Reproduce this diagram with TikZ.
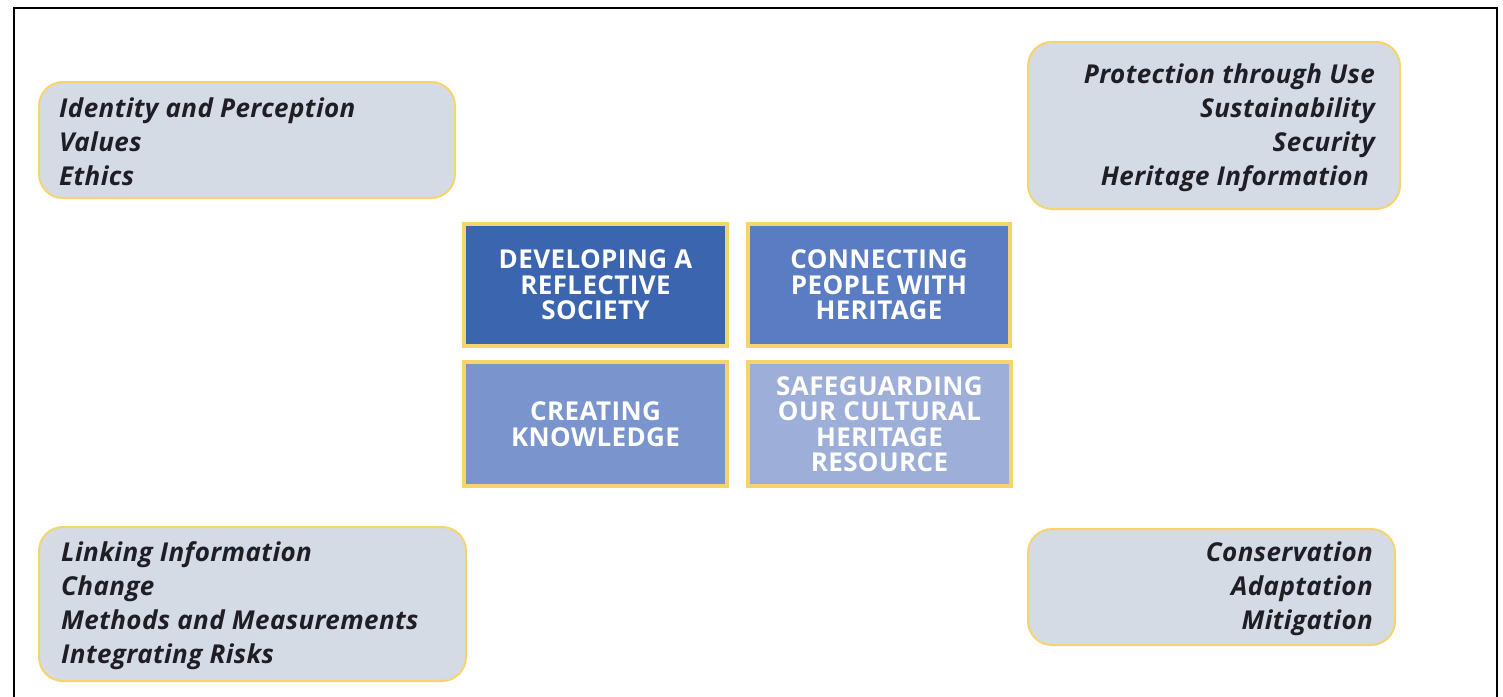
\documentclass[tikz,border=0pt]{standalone}
\usepackage{fontspec}
\setmainfont{Open Sans}
\definecolor{sidefill}{HTML}{D5DBE5}
\definecolor{gold}{HTML}{F6D46C}
\definecolor{cdev}{HTML}{3B65AF}
\definecolor{ccon}{HTML}{5A7CC2}
\definecolor{ccre}{HTML}{7A95CD}
\definecolor{csaf}{HTML}{9DAED8}
\definecolor{txt}{HTML}{1E1E24}
\tikzset{
  sidebox/.style={draw=gold, line width=2pt, fill=sidefill, rounded corners=24pt, inner sep=0pt},
  sidetext/.style={inner sep=0pt, text=txt, yshift=-2pt, font=\fontsize{26}{34}\selectfont\bfseries\itshape\addfontfeatures{LetterSpace=1.5}},
  corebox/.style={draw=gold, line width=4pt, inner sep=0pt, text=white, align=center,
    font=\fontsize{26}{25.5}\selectfont\bfseries\addfontfeatures{LetterSpace=1.5}},
  frameline/.style={draw=black, line width=1.8pt}
}
\begin{document}
\begin{tikzpicture}[x=1pt,y=-1pt]
\useasboundingbox (0,0) rectangle (1503,696);
\fill[white] (0,0) rectangle (1503,696);
\coordinate (f1) at (14,720);
\coordinate (f2) at (14,8);
\coordinate (f3) at (1497,8);
\coordinate (f4) at (1497,720);
\draw[frameline] (f1) -- (f2) -- (f3) -- (f4);

% side boxes
\node[sidebox, minimum width=416pt, minimum height=116pt] (tl) at (247,140) {};
\node[sidetext, anchor=west, align=left] (tlt) at ([xshift=21pt]tl.west) {Identity and Perception\\Values\\Ethics};

\node[sidebox, minimum width=372pt, minimum height=167pt] (tr) at (1214,125.5) {};
\node[sidetext, anchor=east, align=right] (trt) at ([xshift=-26pt]tr.east) {Protection through Use\\Sustainability\\Security\\Heritage Information\hspace*{6pt}};

\node[sidebox, minimum width=427pt, minimum height=154pt] (bl) at (252.5,604) {};
\node[sidetext, anchor=west, align=left] (blt) at ([xshift=23pt]bl.west) {Linking Information\\Change\\Methods and Measurements\\Integrating Risks};

\node[sidebox, minimum width=367pt, minimum height=116pt] (br) at (1211.5,587) {};
\node[sidetext, anchor=east, align=right] (brt) at ([xshift=-23pt]br.east) {Conservation\\Adaptation\\Mitigation};

% core boxes
\node[corebox, fill=cdev, minimum width=263pt, minimum height=122pt] (dev) at (595.5,285) {DEVELOPING A\\REFLECTIVE\\SOCIETY};
\node[corebox, fill=ccon, minimum width=262pt, minimum height=122pt] (con) at (879,285) {CONNECTING\\PEOPLE WITH\\HERITAGE};
\node[corebox, fill=ccre, minimum width=263pt, minimum height=124pt] (cre) at (595.5,424) {CREATING\\KNOWLEDGE};
\node[corebox, fill=csaf, minimum width=263pt, minimum height=124pt] (saf) at (879.5,424) {SAFEGUARDING\\OUR CULTURAL\\HERITAGE\\RESOURCE};
\end{tikzpicture}
\end{document}
